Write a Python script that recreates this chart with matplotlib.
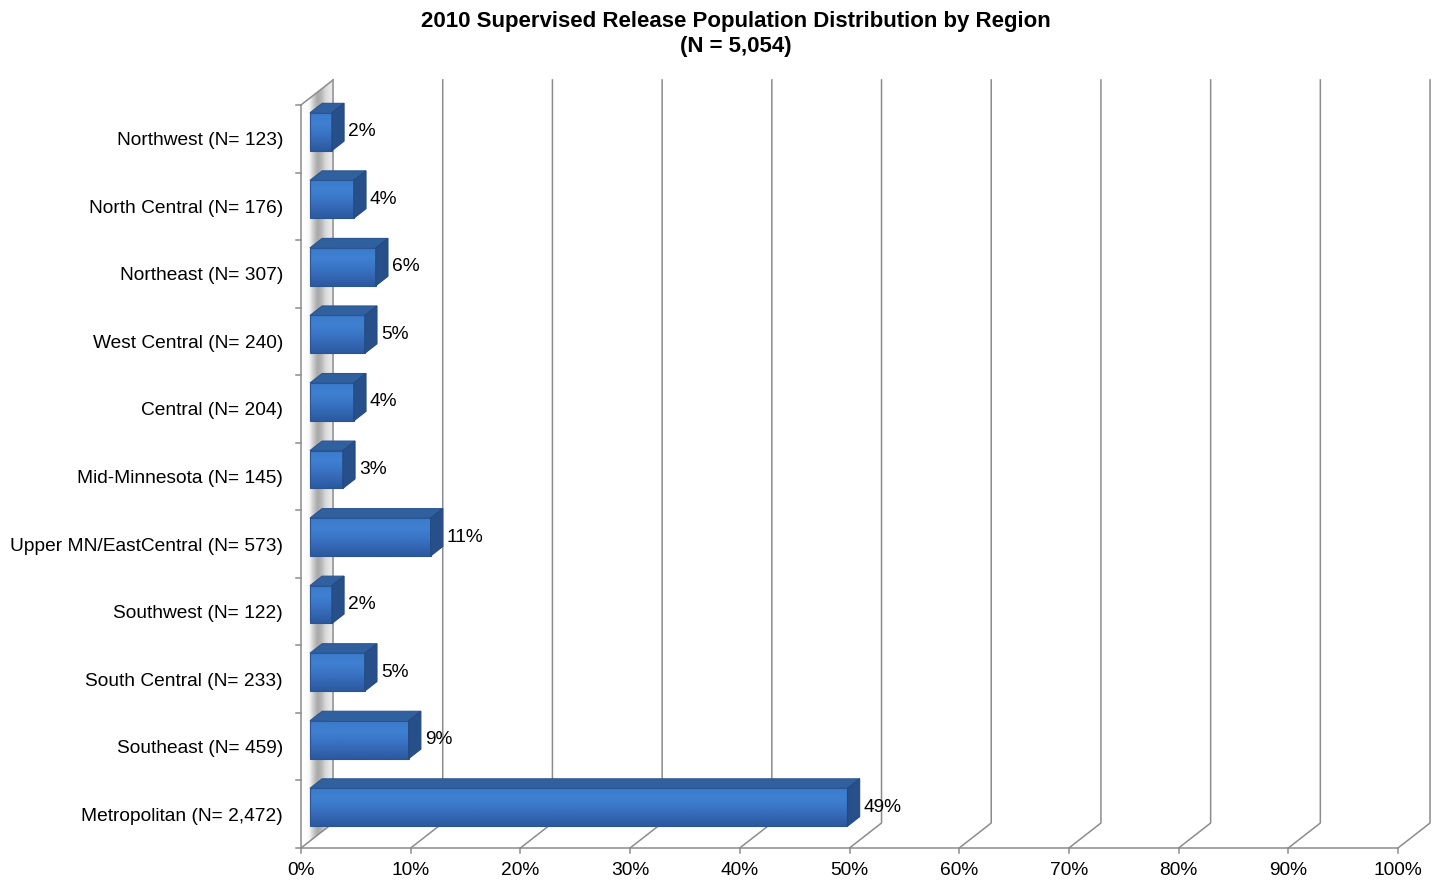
import numpy as np
import matplotlib.pyplot as plt
from matplotlib.patches import Polygon, Rectangle
from matplotlib.colors import LinearSegmentedColormap

plt.rcParams['font.family'] = ['Liberation Sans', 'DejaVu Sans']

# regions top to bottom, with counts and share of the 2010 population
regions = ['Northwest', 'North Central', 'Northeast', 'West Central', 'Central',
           'Mid-Minnesota', 'Upper MN/EastCentral', 'Southwest', 'South Central',
           'Southeast', 'Metropolitan']
counts = ['123', '176', '307', '240', '204', '145', '573', '122', '233', '459', '2,472']
percents = [2, 4, 6, 5, 4, 3, 11, 2, 5, 9, 49]
xticks = list(range(0, 101, 10))

title = '2010 Supervised Release Population Distribution by Region\n(N = 5,054)'

# depth of the fake 3d box, in data units
DX = 2.92
DY = 0.37
F0, F1 = 0.28, 0.66   # front/back of the bars inside the box depth
BAR_H = 0.56
GRID = '#8c8c8c'

fig = plt.figure(figsize=(14.39, 8.82), dpi=100)
W, H = 1439, 882
x_px = 10.97
y_px = 67.55
xlim = (0, 104)
ylim = (10.5, -1.0)
ax = fig.add_axes([301 / W, (H - 848) / H,
                   (xlim[1] - xlim[0]) * x_px / W, (ylim[0] - ylim[1]) * y_px / H])
ax.set_xlim(*xlim)
ax.set_ylim(*ylim)
ax.axis('off')

n = len(regions)
bottom, top = n - 0.5, -0.5

# left wall with its grey shading
wall = np.array([[1, 1, 1], [1, 1, 1], [0.97, 0.97, 0.97], [0.80, 0.80, 0.80],
                 [0.66, 0.66, 0.66], [0.72, 0.72, 0.72], [0.85, 0.85, 0.85],
                 [0.90, 0.90, 0.90], [0.93, 0.93, 0.93]])
wall_cmap = LinearSegmentedColormap.from_list('wall', wall)
grad = np.linspace(0, 1, 64)[None, :]
im = ax.imshow(grad, cmap=wall_cmap, extent=(0, DX, bottom, top - DY),
               aspect='auto', zorder=1, interpolation='bilinear')
wall_poly = Polygon([(0, bottom), (0, top), (DX, top - DY), (DX, bottom - DY)],
                    closed=True, transform=ax.transData, facecolor='none', edgecolor='none')
ax.add_patch(wall_poly)
im.set_clip_path(wall_poly)

# gridlines on floor and back wall
for t in xticks:
    ax.plot([t, t + DX, t + DX], [bottom, bottom - DY, top - DY],
            color=GRID, lw=1.1, zorder=2, clip_on=False)
    ax.plot([t, t], [bottom, bottom + 0.08], color=GRID, lw=1.1, zorder=2, clip_on=False)
    ax.text(t, bottom + 0.34, f'{t}%', ha='center', va='center', fontsize=13.8)

# front axes and top edge of the side wall
ax.plot([0, 0], [top, bottom], color=GRID, lw=1.1, zorder=2, clip_on=False)
ax.plot([0, 100], [bottom, bottom], color=GRID, lw=1.1, zorder=2, clip_on=False)
ax.plot([0, DX], [top, top - DY], color=GRID, lw=1.1, zorder=2, clip_on=False)
for k in range(n + 1):
    ax.plot([-0.5, 0], [top + k, top + k], color=GRID, lw=1.1, zorder=2, clip_on=False)

front_cmap = LinearSegmentedColormap.from_list(
    'front', ['#3c7bcb', '#3f80d2', '#3a76c6', '#3467b4', '#2c5a9f'])
ddx = (F1 - F0) * DX
ddy = (F1 - F0) * DY

for i, (name, cnt, v) in enumerate(zip(regions, counts, percents)):
    x0 = F0 * DX
    yc = i - F0 * DY
    yt, yb = yc - BAR_H / 2, yc + BAR_H / 2
    face = Rectangle((x0, yt), v, BAR_H, facecolor='none', edgecolor='#2a5592',
                     lw=0.8, zorder=4)
    ax.add_patch(face)
    g = ax.imshow(np.linspace(0, 1, 32)[:, None], cmap=front_cmap,
                  extent=(x0, x0 + v, yb, yt), aspect='auto', zorder=3,
                  interpolation='bilinear')
    g.set_clip_path(face)
    ax.add_patch(Polygon([(x0, yt), (x0 + v, yt), (x0 + v + ddx, yt - ddy), (x0 + ddx, yt - ddy)],
                         closed=True, facecolor='#31609f', edgecolor='#2a5592', lw=0.8, zorder=4))
    ax.add_patch(Polygon([(x0 + v, yt), (x0 + v, yb), (x0 + v + ddx, yb - ddy), (x0 + v + ddx, yt - ddy)],
                         closed=True, facecolor='#27508a', edgecolor='#234a80', lw=0.8, zorder=4))
    ax.text(x0 + v + ddx + 0.35, yc, f'{v}%', ha='left', va='center', fontsize=13.8, zorder=5)
    ax.text(-1.64, i + 0.03, f'{name} (N= {cnt})', ha='right', va='center', fontsize=13.8)

fig.text(736 / W, 1 - 34 / H, title, ha='center', va='center', fontsize=16,
         fontweight='bold', linespacing=1.2)

fig.savefig('out.png', dpi=100)
